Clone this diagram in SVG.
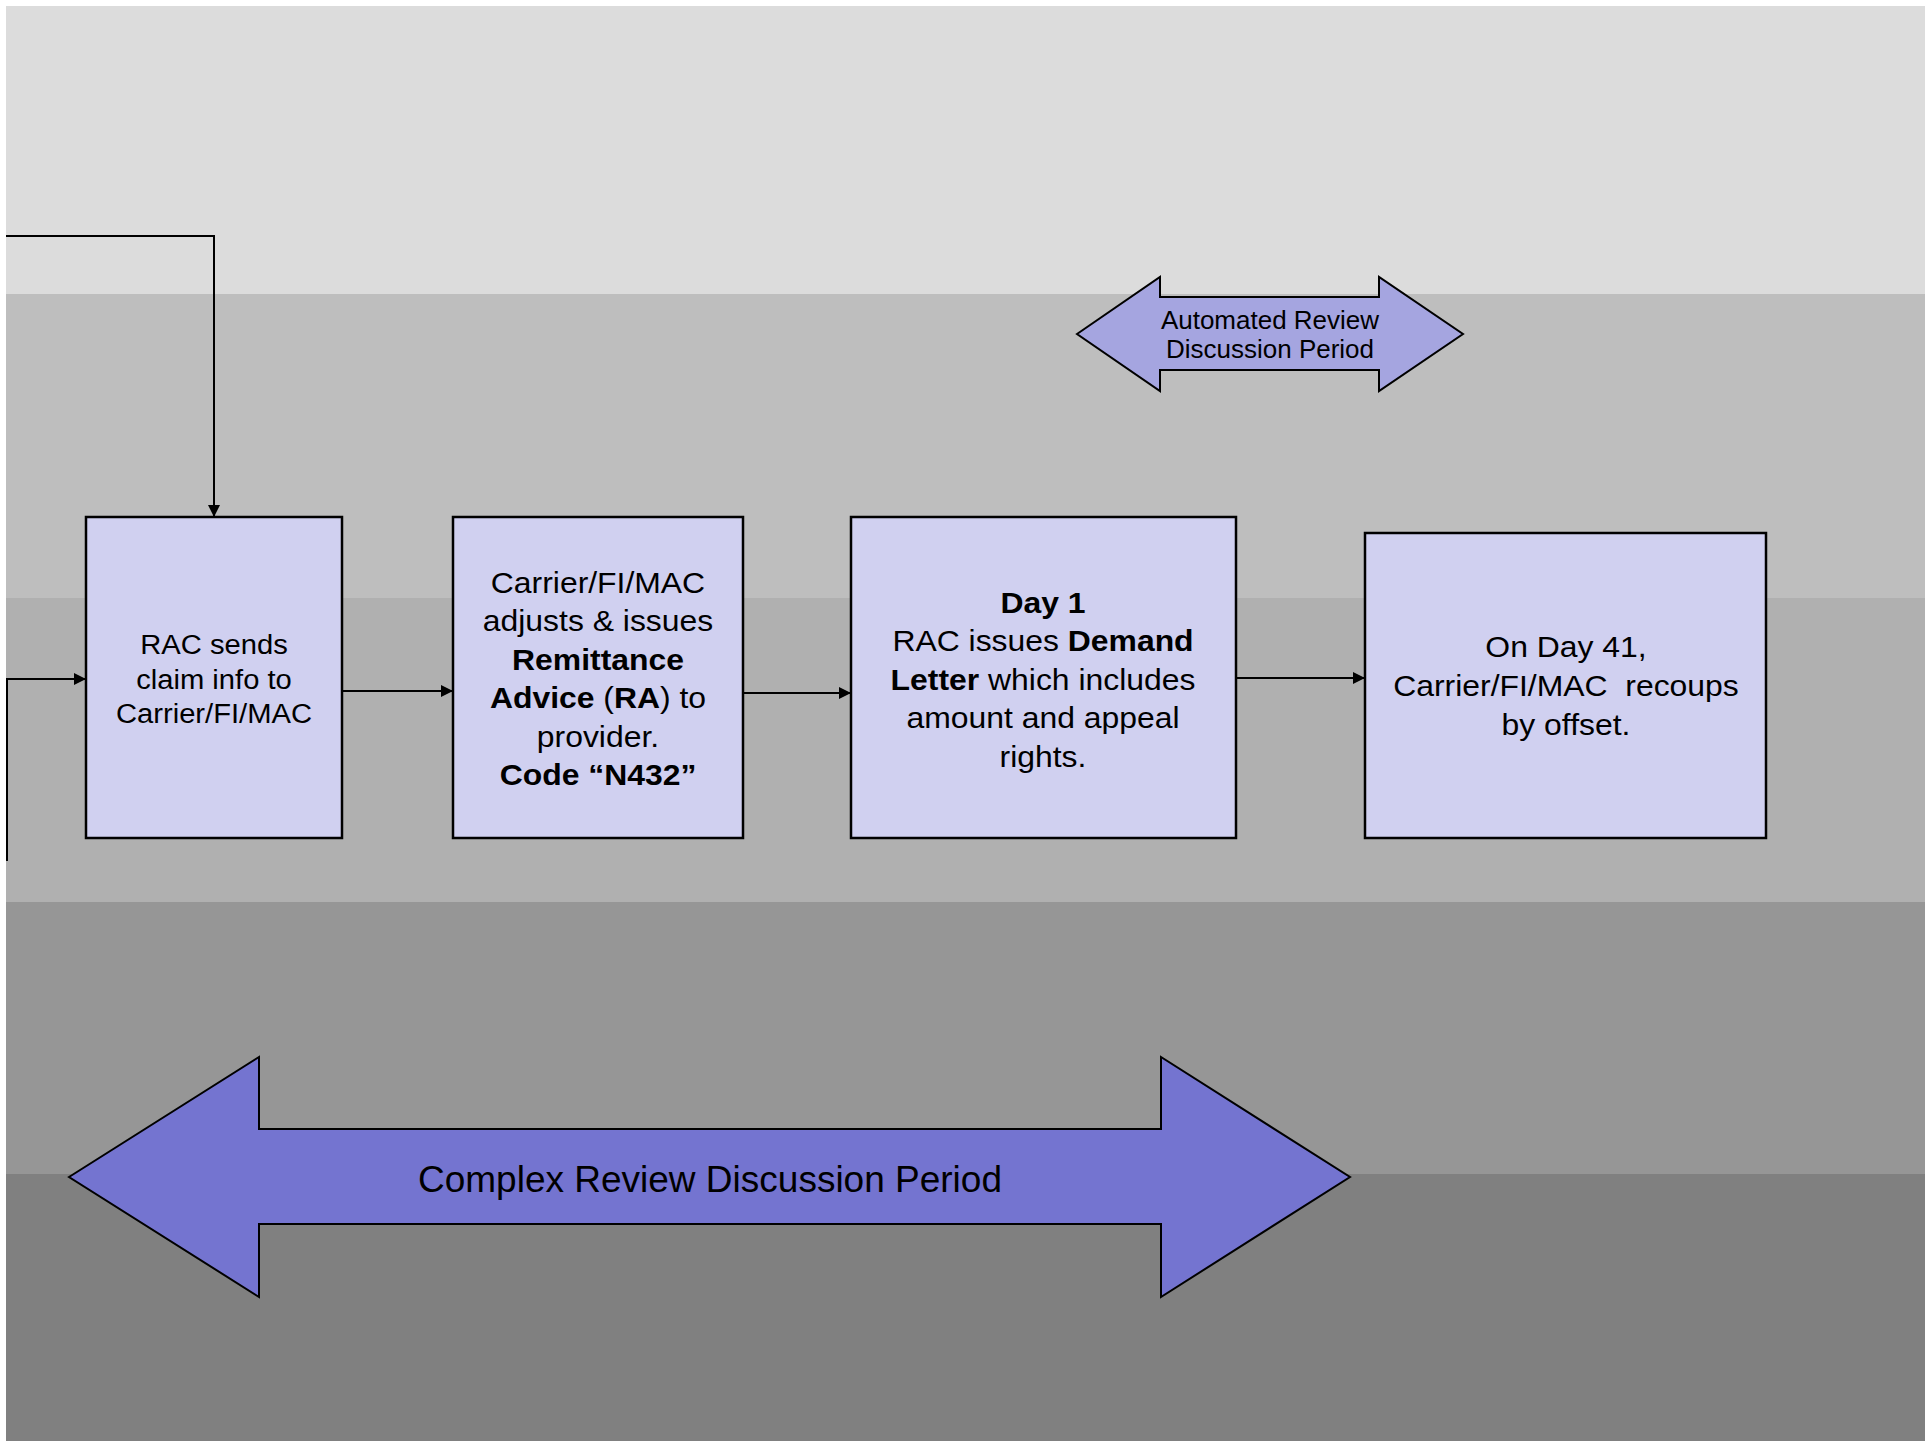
<svg xmlns="http://www.w3.org/2000/svg" width="1925" height="1441" viewBox="0 0 1925 1441">
<defs>
<marker id="ah" markerUnits="userSpaceOnUse" markerWidth="12" markerHeight="12" refX="12" refY="6" orient="auto">
<path d="M0,0 L12,6 L0,12 z" fill="#000"/>
</marker>
<style>
.box{fill:#D0D0F0;stroke:#000;stroke-width:2.5}
.conn{fill:none;stroke:#000;stroke-width:2}
.t{font-family:"Liberation Sans",Arial,sans-serif;fill:#000;text-anchor:middle}
.b{font-weight:bold}
.dbl{stroke:#000;stroke-width:2;stroke-linejoin:miter}
</style>
</defs>
<rect x="0" y="0" width="1925" height="1441" fill="#FFFFFF"/>
<g id="bands">
<rect x="6" y="6" width="1919" height="288" fill="#DCDCDC"/>
<rect x="6" y="294" width="1919" height="304" fill="#BEBEBE"/>
<rect x="6" y="598" width="1919" height="304" fill="#B0B0B0"/>
<rect x="6" y="902" width="1919" height="272" fill="#969696"/>
<rect x="6" y="1174" width="1919" height="267" fill="#808080"/>
</g>
<g id="automated">
<polygon class="dbl" fill="#A5A5E0" points="1077,334 1160,277 1160,297 1379,297 1379,277 1463,334 1379,391 1379,370 1160,370 1160,391"/>
<text class="t" font-size="26" x="1270" y="329">Automated Review</text>
<text class="t" font-size="26" x="1270" y="358">Discussion Period</text>
</g>
<g id="complex">
<polygon class="dbl" fill="#7474D0" points="69,1177 259,1057 259,1129 1161,1129 1161,1057 1350,1177 1161,1297 1161,1224 259,1224 259,1297"/>
<text class="t" font-size="37" x="710" y="1192">Complex Review Discussion Period</text>
</g>
<g id="connectors">
<path class="conn" d="M6,236 H214 V517" marker-end="url(#ah)"/>
<path class="conn" d="M7,861 V679 H86" marker-end="url(#ah)"/>
<path class="conn" d="M342,691 H453" marker-end="url(#ah)"/>
<path class="conn" d="M743,693 H851" marker-end="url(#ah)"/>
<path class="conn" d="M1236,678 H1365" marker-end="url(#ah)"/>
</g>
<g id="n1">
<rect class="box" x="86" y="517" width="256" height="321"/>
<text class="t" font-size="27" transform="matrix(1.08,0,0,1,-17.12,0)"><tspan x="214" y="654">RAC sends</tspan><tspan x="214" y="689">claim info to</tspan><tspan x="214" y="723">Carrier/FI/MAC</tspan></text>
</g>
<g id="n2">
<rect class="box" x="453" y="517" width="290" height="321"/>
<text class="t" font-size="29" transform="matrix(1.1,0,0,1,-59.8,0)"><tspan x="598" y="593">Carrier/FI/MAC</tspan><tspan x="598" y="631">adjusts &amp; issues</tspan><tspan x="598" y="670" class="b">Remittance</tspan><tspan x="598" y="708"><tspan class="b">Advice</tspan> (<tspan class="b">RA</tspan>) to</tspan><tspan x="598" y="747">provider.</tspan><tspan x="598" y="785" class="b">Code “N432”</tspan></text>
</g>
<g id="n3">
<rect class="box" x="851" y="517" width="385" height="321"/>
<text class="t" font-size="29" transform="matrix(1.1,0,0,1,-104.3,0)"><tspan x="1043" y="613" class="b">Day 1</tspan><tspan x="1043" y="651">RAC issues <tspan class="b">Demand</tspan></tspan><tspan x="1043" y="690"><tspan class="b">Letter</tspan> which includes</tspan><tspan x="1043" y="728">amount and appeal</tspan><tspan x="1043" y="767">rights.</tspan></text>
</g>
<g id="n4">
<rect class="box" x="1365" y="533" width="401" height="305"/>
<text class="t" font-size="29" xml:space="preserve" transform="matrix(1.1,0,0,1,-156.6,0)"><tspan x="1566" y="657">On Day 41,</tspan><tspan x="1566" y="696">Carrier/FI/MAC  recoups</tspan><tspan x="1566" y="735">by offset.</tspan></text>
</g>
</svg>
